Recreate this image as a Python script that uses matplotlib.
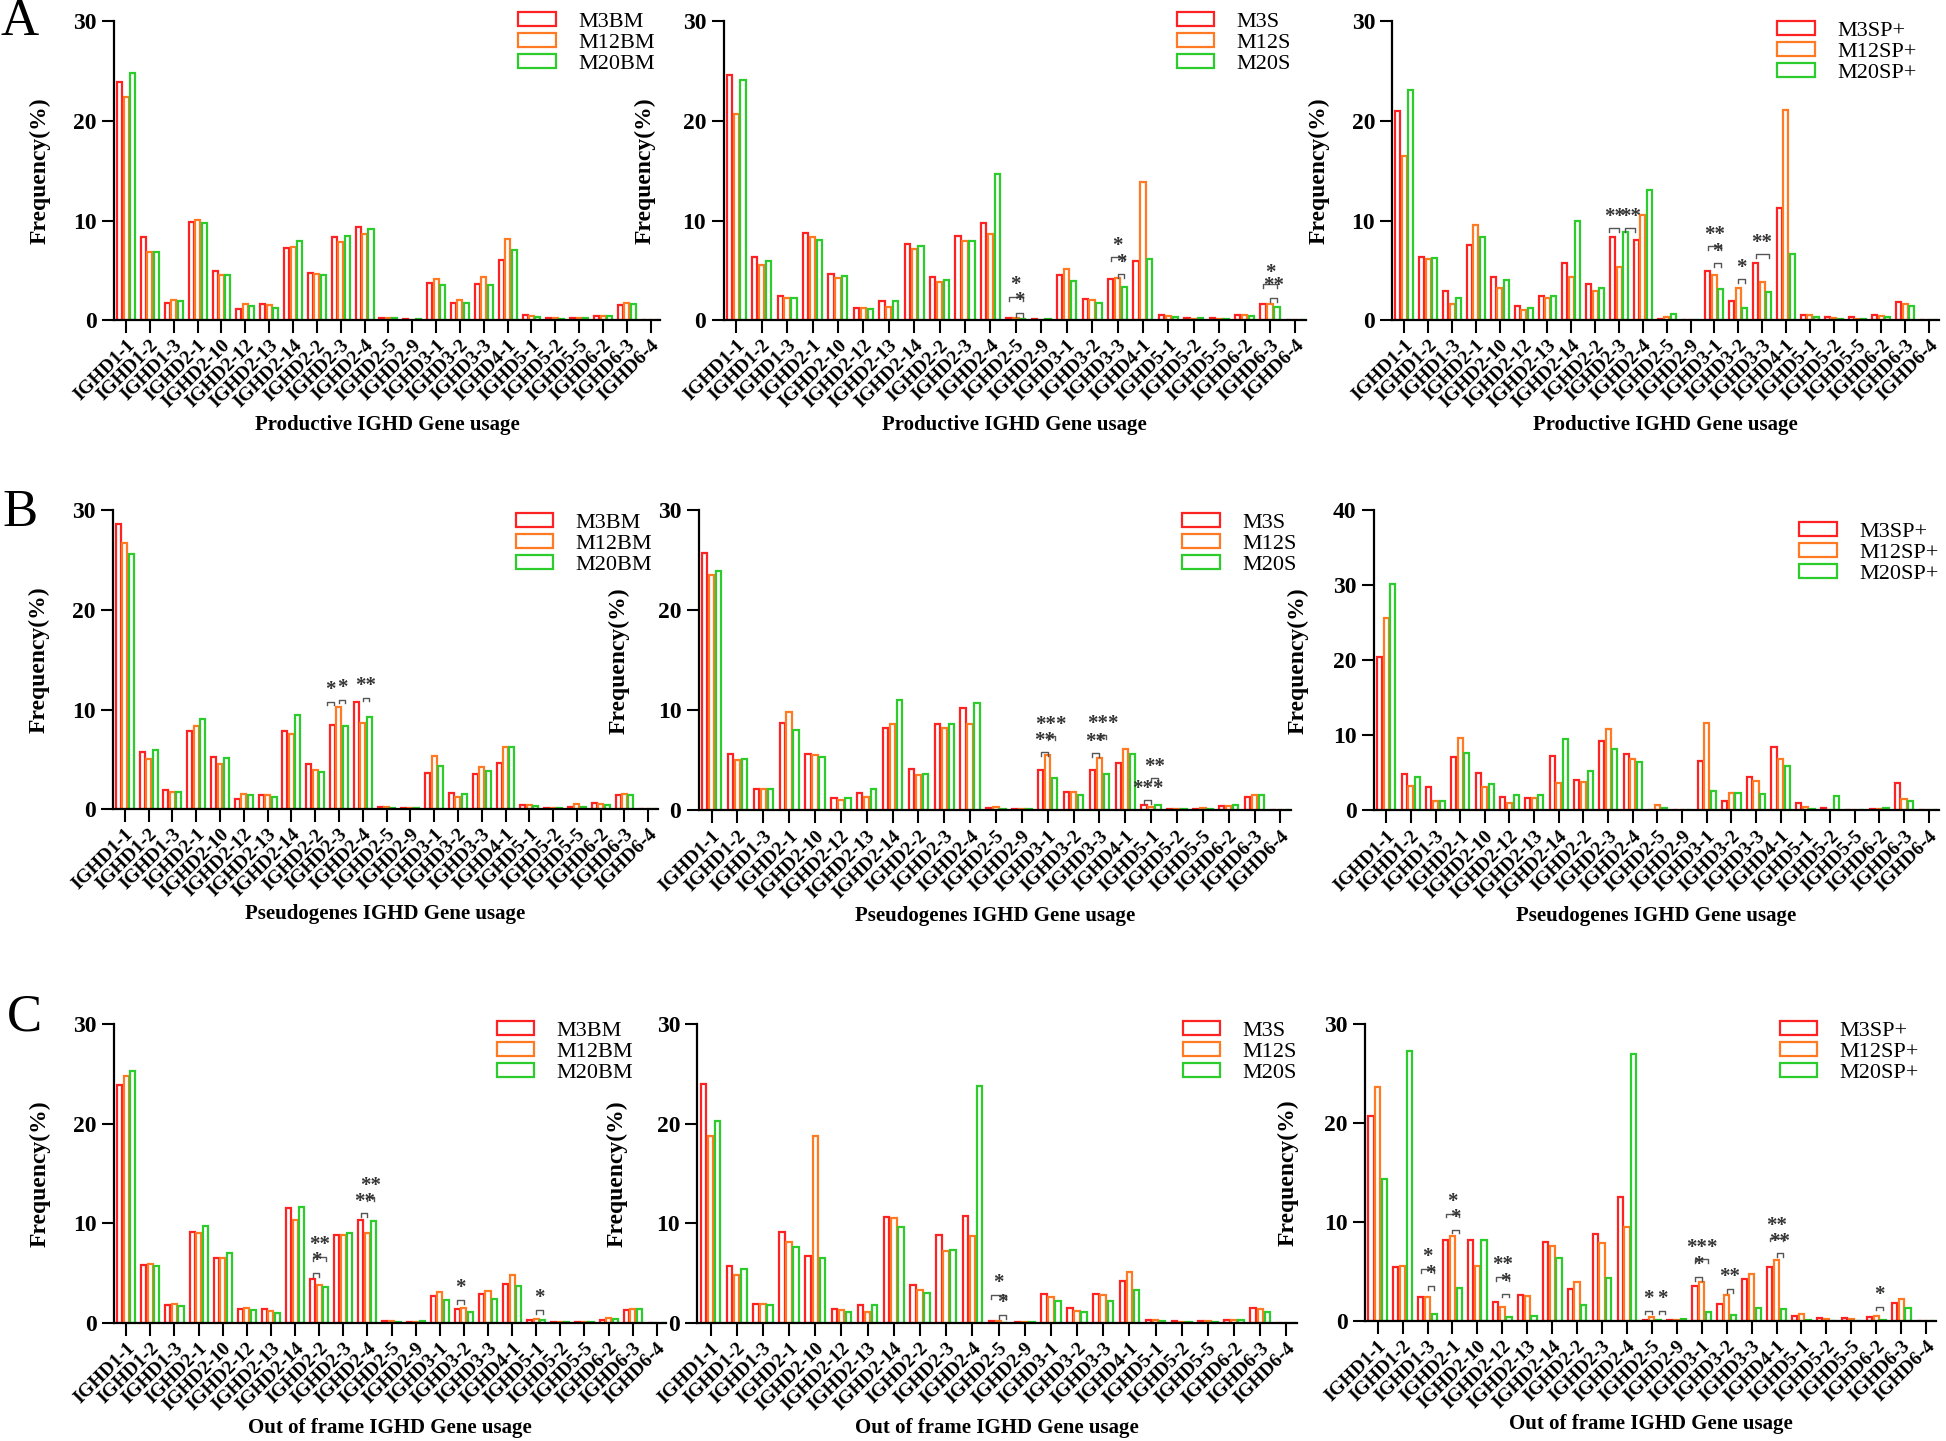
import matplotlib.pyplot as plt
import numpy as np

plt.rcParams['font.family'] = ['Liberation Serif', 'DejaVu Serif']

genes = ["IGHD1-1", "IGHD1-2", "IGHD1-3", "IGHD2-1", "IGHD2-10", "IGHD2-12", "IGHD2-13",
         "IGHD2-14", "IGHD2-2", "IGHD2-3", "IGHD2-4", "IGHD2-5", "IGHD2-9", "IGHD3-1",
         "IGHD3-2", "IGHD3-3", "IGHD4-1", "IGHD5-1", "IGHD5-2", "IGHD5-5", "IGHD6-2",
         "IGHD6-3", "IGHD6-4"]

# A: productive
prod_bm_m3 = [23.9, 8.3, 1.7, 9.9, 4.9, 1.1, 1.6, 7.2, 4.7, 8.3, 9.3, 0.25, 0.1, 3.7, 1.7, 3.6, 6.0, 0.5, 0.25, 0.2, 0.45, 1.5, 0.05]
prod_bm_m12 = [22.4, 6.8, 2.0, 10.1, 4.5, 1.6, 1.5, 7.3, 4.6, 7.8, 8.6, 0.2, 0.05, 4.1, 2.0, 4.3, 8.1, 0.45, 0.2, 0.2, 0.45, 1.7, 0.05]
prod_bm_m20 = [24.8, 6.8, 1.9, 9.8, 4.5, 1.4, 1.2, 7.9, 4.5, 8.4, 9.1, 0.2, 0.1, 3.5, 1.7, 3.5, 7.0, 0.35, 0.15, 0.2, 0.45, 1.6, 0.0]

prod_s_m3 = [24.6, 6.3, 2.4, 8.7, 4.6, 1.2, 1.9, 7.6, 4.3, 8.4, 9.8, 0.25, 0.1, 4.5, 2.1, 4.1, 5.9, 0.5, 0.2, 0.25, 0.55, 1.6, 0.05]
prod_s_m12 = [20.7, 5.5, 2.2, 8.3, 4.2, 1.2, 1.3, 7.1, 3.8, 7.9, 8.6, 0.2, 0.05, 5.1, 2.0, 4.2, 13.9, 0.4, 0.15, 0.15, 0.55, 1.6, 0.05]
prod_s_m20 = [24.1, 5.9, 2.2, 8.0, 4.4, 1.1, 1.9, 7.4, 4.0, 7.9, 14.7, 0.15, 0.1, 3.9, 1.7, 3.3, 6.1, 0.35, 0.2, 0.15, 0.4, 1.3, 0.0]

prod_sp_m3 = [21.0, 6.3, 2.9, 7.5, 4.3, 1.4, 2.4, 5.7, 3.6, 8.3, 8.0, 0.15, 0.05, 4.9, 1.9, 5.7, 11.3, 0.55, 0.3, 0.3, 0.55, 1.8, 0.05]
prod_sp_m12 = [16.5, 6.1, 1.6, 9.6, 3.2, 1.0, 2.2, 4.3, 2.9, 5.3, 10.6, 0.3, 0.0, 4.5, 3.2, 3.8, 21.1, 0.5, 0.25, 0.1, 0.4, 1.6, 0.05]
prod_sp_m20 = [23.1, 6.2, 2.2, 8.3, 4.0, 1.2, 2.4, 10.0, 3.2, 8.8, 13.1, 0.6, 0.05, 3.1, 1.2, 2.8, 6.6, 0.3, 0.15, 0.15, 0.3, 1.4, 0.0]

# B: pseudogenes
pseudo_bm_m3 = [28.6, 5.7, 1.9, 7.8, 5.2, 1.0, 1.4, 7.8, 4.5, 8.4, 10.8, 0.25, 0.1, 3.6, 1.6, 3.5, 4.6, 0.45, 0.15, 0.25, 0.6, 1.4, 0.05]
pseudo_bm_m12 = [26.7, 5.0, 1.7, 8.3, 4.5, 1.5, 1.4, 7.5, 3.9, 10.3, 8.6, 0.25, 0.1, 5.3, 1.2, 4.2, 6.2, 0.4, 0.1, 0.55, 0.5, 1.5, 0.0]
pseudo_bm_m20 = [25.6, 5.9, 1.7, 9.1, 5.1, 1.4, 1.2, 9.5, 3.7, 8.3, 9.3, 0.1, 0.15, 4.3, 1.5, 3.8, 6.2, 0.35, 0.15, 0.25, 0.45, 1.4, 0.0]

pseudo_s_m3 = [25.7, 5.6, 2.1, 8.7, 5.6, 1.2, 1.7, 8.2, 4.1, 8.6, 10.2, 0.25, 0.1, 4.0, 1.8, 4.0, 4.7, 0.55, 0.1, 0.15, 0.45, 1.35, 0.05]
pseudo_s_m12 = [23.5, 5.0, 2.1, 9.8, 5.5, 1.0, 1.3, 8.6, 3.5, 8.2, 8.6, 0.35, 0.1, 5.5, 1.8, 5.2, 6.1, 0.35, 0.1, 0.25, 0.45, 1.55, 0.0]
pseudo_s_m20 = [23.9, 5.1, 2.1, 8.0, 5.3, 1.2, 2.1, 11.0, 3.6, 8.6, 10.7, 0.1, 0.1, 3.2, 1.5, 3.6, 5.6, 0.5, 0.1, 0.15, 0.55, 1.5, 0.05]

pseudo_sp_m3 = [20.4, 4.8, 3.1, 7.1, 5.0, 1.8, 1.7, 7.2, 4.1, 9.2, 7.5, 0.05, 0.05, 6.6, 1.2, 4.4, 8.5, 0.95, 0.35, 0.1, 0.15, 3.6, 0.0]
pseudo_sp_m12 = [25.6, 3.2, 1.2, 9.6, 3.1, 1.0, 1.7, 3.6, 3.8, 10.8, 6.9, 0.75, 0.0, 11.7, 2.3, 3.9, 6.8, 0.45, 0.0, 0.05, 0.25, 1.55, 0.0]
pseudo_sp_m20 = [30.2, 4.5, 1.2, 7.6, 3.5, 2.0, 2.0, 9.5, 5.3, 8.2, 6.4, 0.3, 0.05, 2.6, 2.35, 2.2, 5.9, 0.25, 1.9, 0.1, 0.3, 1.25, 0.0]

# C: out of frame
oof_bm_m3 = [23.9, 5.8, 1.85, 9.15, 6.5, 1.4, 1.45, 11.55, 4.45, 8.85, 10.35, 0.2, 0.15, 2.7, 1.4, 2.9, 3.9, 0.35, 0.15, 0.15, 0.35, 1.3, 0.05]
oof_bm_m12 = [24.8, 5.9, 1.9, 9.0, 6.5, 1.5, 1.25, 10.3, 3.8, 8.8, 9.05, 0.2, 0.1, 3.1, 1.55, 3.2, 4.8, 0.4, 0.15, 0.15, 0.5, 1.45, 0.0]
oof_bm_m20 = [25.3, 5.7, 1.75, 9.7, 7.0, 1.35, 1.05, 11.6, 3.6, 9.0, 10.25, 0.1, 0.2, 2.35, 1.1, 2.45, 3.75, 0.3, 0.1, 0.15, 0.4, 1.4, 0.0]

oof_s_m3 = [24.0, 5.7, 1.9, 9.1, 6.7, 1.4, 1.8, 10.6, 3.8, 8.85, 10.75, 0.2, 0.15, 2.9, 1.5, 2.9, 4.2, 0.3, 0.2, 0.2, 0.3, 1.5, 0.0]
oof_s_m12 = [18.8, 4.8, 1.9, 8.1, 18.8, 1.3, 1.1, 10.5, 3.3, 7.2, 8.7, 0.2, 0.1, 2.6, 1.2, 2.8, 5.1, 0.3, 0.15, 0.2, 0.3, 1.4, 0.05]
oof_s_m20 = [20.3, 5.4, 1.8, 7.6, 6.5, 1.1, 1.8, 9.6, 3.0, 7.35, 23.8, 0.05, 0.15, 2.2, 1.1, 2.2, 3.3, 0.2, 0.1, 0.15, 0.3, 1.15, 0.0]

oof_sp_m3 = [20.7, 5.4, 2.4, 8.2, 8.15, 1.85, 2.6, 7.9, 3.15, 8.8, 12.55, 0.1, 0.1, 3.45, 1.65, 4.2, 5.45, 0.45, 0.3, 0.25, 0.35, 1.75, 0.0]
oof_sp_m12 = [23.6, 5.5, 2.4, 8.55, 5.5, 1.35, 2.5, 7.55, 3.9, 7.8, 9.5, 0.35, 0.1, 3.95, 2.6, 4.7, 6.15, 0.65, 0.2, 0.15, 0.5, 2.15, 0.0]
oof_sp_m20 = [14.3, 27.3, 0.65, 3.25, 8.2, 0.35, 0.5, 6.3, 1.6, 4.3, 27.0, 0.1, 0.2, 0.85, 0.6, 1.25, 1.2, 0.05, 0.0, 0.0, 0.1, 1.25, 0.0]

names_bm = ["M3BM", "M12BM", "M20BM"]
names_s = ["M3S", "M12S", "M20S"]
names_sp = ["M3SP+", "M12SP+", "M20SP+"]

# significance marks: (gene, bar a, bar b, height, text); bars 0=M3, 1=M12, 2=M20
sig_prod_s = [("IGHD2-5", 0, 2, 2.3, "*"), ("IGHD2-5", 1, 2, 0.7, "*"),
              ("IGHD3-3", 0, 2, 6.3, "*"), ("IGHD3-3", 1, 2, 4.6, "*"),
              ("IGHD6-3", 0, 2, 3.6, "*"), ("IGHD6-3", 1, 2, 2.2, "**")]
sig_prod_sp = [("IGHD2-3", -0.5, 1, 9.2, "**"), ("IGHD2-3", 2, 3.5, 9.2, "**"),
               ("IGHD3-1", 0, 2, 7.4, "**"), ("IGHD3-1", 1, 2, 5.7, "*"),
               ("IGHD3-2", 1, 2, 4.1, "*"), ("IGHD3-3", 0, 2, 6.6, "**")]
sig_pseudo_bm = [("IGHD2-3", -0.8, 0.2, 10.8, "*"), ("IGHD2-3", 1, 2, 11.0, "*"),
                 ("IGHD2-4", 1, 2, 11.2, "**")]
sig_pseudo_s = [("IGHD3-1", 0, 1, 5.8, "**"), ("IGHD3-1", 1, 2, 7.4, "***"),
                ("IGHD3-3", 0, 1, 5.7, "**"), ("IGHD3-3", 1, 2, 7.5, "***"),
                ("IGHD5-1", 0, 1, 1.0, "***"), ("IGHD5-1", 1, 2, 3.2, "**")]
sig_oof_bm = [("IGHD2-2", 0, 1, 5.0, "*"), ("IGHD2-2", 0, 2, 6.6, "**"),
              ("IGHD2-4", 0, 1, 11.0, "**"), ("IGHD2-4", 1, 2, 12.6, "**"),
              ("IGHD3-2", 0, 1, 2.3, "*"), ("IGHD5-1", 1, 2, 1.3, "*")]
sig_oof_s = [("IGHD2-5", 0, 2, 2.8, "*"), ("IGHD2-5", 1, 2, 0.8, "*")]
sig_oof_sp = [("IGHD1-3", 0, 2, 5.2, "*"), ("IGHD1-3", 1, 2, 3.5, "*"),
              ("IGHD2-1", 0, 2, 10.8, "*"), ("IGHD2-1", 1, 2, 9.2, "*"),
              ("IGHD2-12", 0, 2, 4.4, "**"), ("IGHD2-12", 1, 2, 2.7, "*"),
              ("IGHD2-5", 0, 1, 1.0, "*"), ("IGHD2-5", 2, 3, 1.0, "*"),
              ("IGHD3-1", 0, 2, 6.2, "***"), ("IGHD3-1", 0, 1, 4.4, "*"),
              ("IGHD3-2", 1, 2, 3.2, "**"), ("IGHD4-1", 0, 2, 8.4, "**"),
              ("IGHD4-1", 1, 2, 6.8, "**"), ("IGHD6-2", 1, 2, 1.4, "*")]

colors = ["#ff2222", "#ff7a22", "#2ccc2c"]
W, H = 1568.0, 1161.0
pitch = 0.27

panels = [
    # (left, right, top, bottom) in px, series, names, xlabel, ymax, sigs, legend anchor
    ((92, 532, 17, 258), (prod_bm_m3, prod_bm_m12, prod_bm_m20), names_bm,
     "Productive IGHD Gene usage", 30, [], (0.99, 1.03)),
    ((583, 1052, 17, 258), (prod_s_m3, prod_s_m12, prod_s_m20), names_s,
     "Productive IGHD Gene usage", 30, sig_prod_s, (0.975, 1.03)),
    ((1122, 1562, 17, 258), (prod_sp_m3, prod_sp_m12, prod_sp_m20), names_sp,
     "Productive IGHD Gene usage", 30, sig_prod_sp, (0.96, 1.0)),
    ((91, 530, 411, 652), (pseudo_bm_m3, pseudo_bm_m12, pseudo_bm_m20), names_bm,
     "Pseudogenes IGHD Gene usage", 30, sig_pseudo_bm, (0.99, 0.99)),
    ((563, 1040, 411, 653), (pseudo_s_m3, pseudo_s_m12, pseudo_s_m20), names_s,
     "Pseudogenes IGHD Gene usage", 30, sig_pseudo_s, (1.01, 0.99)),
    ((1107, 1562, 411, 653), (pseudo_sp_m3, pseudo_sp_m12, pseudo_sp_m20), names_sp,
     "Pseudogenes IGHD Gene usage", 40, [], (1.0, 0.96)),
    ((92, 537, 825, 1066), (oof_bm_m3, oof_bm_m12, oof_bm_m20), names_bm,
     "Out of frame IGHD Gene usage", 30, sig_oof_bm, (0.94, 1.01)),
    ((562, 1045, 825, 1066), (oof_s_m3, oof_s_m12, oof_s_m20), names_s,
     "Out of frame IGHD Gene usage", 30, sig_oof_s, (1.0, 1.01)),
    ((1100, 1560, 825, 1064), (oof_sp_m3, oof_sp_m12, oof_sp_m20), names_sp,
     "Out of frame IGHD Gene usage", 30, sig_oof_sp, (0.97, 1.01)),
]

fig = plt.figure(figsize=(19.46, 14.41), dpi=100)
x = np.arange(len(genes))

for (l, r, t, b), series, names, xlab, ymax, sigs, anchor in panels:
    ax = fig.add_axes([l / W, 1 - b / H, (r - l) / W, (b - t) / H])
    for k in range(3):
        ax.bar(x + (k - 1) * pitch, series[k], width=0.21, color="white",
               edgecolor=colors[k], linewidth=1.6, label=names[k], zorder=2)
    for gene, a, bb, y, txt in sigs:
        i = genes.index(gene)
        x1 = i + (a - 1) * pitch
        x2 = i + (bb - 1) * pitch
        d = ymax * 0.012
        ax.plot([x1, x1, x2, x2], [y - d, y, y, y - d], color="#555555", lw=1.0, zorder=3)
        ax.text((x1 + x2) / 2, y + ymax * 0.006, txt, ha="center", va="bottom",
                fontsize=15, fontweight="bold", color="#333333", zorder=4)
    ax.set_xlim(-0.5, 22.4)
    ax.set_ylim(0, ymax)
    ax.set_yticks(np.arange(0, ymax + 1, 10))
    ax.set_xticks(x)
    ax.set_xticklabels(genes, rotation=45, ha="right", va="top",
                       rotation_mode="anchor", fontsize=14, fontweight="bold")
    for lab in ax.get_yticklabels():
        lab.set_fontsize(17)
        lab.set_fontweight("bold")
    ax.tick_params(axis="both", direction="out", length=9, width=1.5)
    ax.tick_params(axis="x", pad=3)
    for s in ["top", "right"]:
        ax.spines[s].set_visible(False)
    for s in ["left", "bottom"]:
        ax.spines[s].set_linewidth(1.6)
    ax.set_ylabel("Frequency(%)", fontsize=17, fontweight="bold")
    ax.yaxis.label.set_va("center")
    ax.yaxis.set_label_coords(-0.135, 0.5)
    ax.set_xlabel(xlab, fontsize=15, fontweight="bold")
    ax.xaxis.label.set_va("center")
    ax.xaxis.set_label_coords(0.5, -0.35)
    ax.legend(loc="upper right", bbox_to_anchor=anchor, frameon=False, fontsize=16,
              handlelength=1.7, handleheight=0.6, handletextpad=1.0,
              labelspacing=0.05, borderaxespad=0, borderpad=0)

fig.text(16 / W, 1 - 18 / H, "A", fontsize=38, ha="center", va="center")
fig.text(16 / W, 1 - 413 / H, "B", fontsize=38, ha="center", va="center")
fig.text(20 / W, 1 - 820 / H, "C", fontsize=38, ha="center", va="center")

fig.savefig("out.png", dpi=100, facecolor="white")
